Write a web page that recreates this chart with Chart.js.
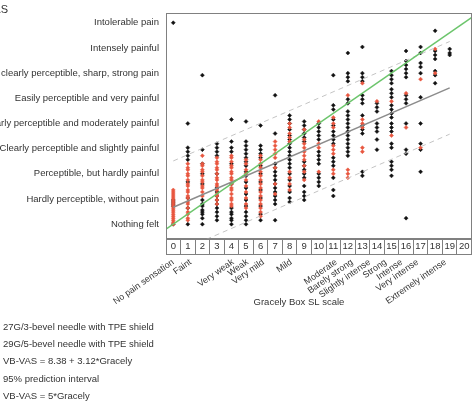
<!DOCTYPE html>
<html><head><meta charset="utf-8">
<script src="https://cdn.jsdelivr.net/npm/chart.js@4.4.1/dist/chart.umd.min.js"></script>
<style>
html,body{margin:0;padding:0;background:#fff;overflow:hidden;}
#wrap{position:relative;width:476px;height:403px;overflow:hidden;}
#c{position:absolute;left:0;top:0;}
#legend{position:absolute;left:3px;top:318px;font:9.5px 'Liberation Sans',Arial,sans-serif;color:#333;line-height:17.2px;}
.item{position:relative;white-space:nowrap;}
.sw{position:absolute;left:-26px;top:8px;width:18px;height:0;}
</style></head>
<body><div id="wrap"><canvas id="c" width="476" height="403"></canvas><div id="legend"></div></div>
<script>
// Category / tick labels
const boxNumbers = [0,1,2,3,4,5,6,7,8,9,10,11,12,13,14,15,16,17,18,19,20];
const descPos = [0,1.2,4.1,5.1,6.2,8.1,11.2,12.3,13.5,14.6,15.7,16.8,18.7];
const descNames = ['No pain sensation','Faint','Very weak','Weak','Very mild','Mild','Moderate','Barely strong','Slightly intense','Strong','Intense','Very intense','Extremely intense'];
const yLevels = [0,12.5,25,37.5,50,62.5,75,87.5,100];
const yNames = ['Nothing felt','Hardly perceptible, without pain','Perceptible, but hardly painful','Clearly perceptible and slightly painful','Clearly perceptible and moderately painful','Easily perceptible and very painful','Very clearly perceptible, sharp, strong pain','Intensely painful','Intolerable pain'];

// VB-VAS values per Gracely box (index = box number)
const needle27 = [
 [100,12,11,10,9,0],
 [50,38,36,34,32,21,13,8,0],
 [74,37,30,25,20,12,10,9,7,6,5,3,0],
 [40,38,36,34,25,18,16,14,12,10,8,6,4,2],
 [52,41,38,36,30,20,8,6,5,3,2,0],
 [51,41,39,37,35,33,31,29,26,24,21,18,15,12,9,6,4,2,0],
 [49,39,37,35,33,29,25,21,17,13,9,5,2],
 [64,45,30,28,26,24,22,20,18,16,14,12,10,2],
 [54,52,50,47,44,42,40,38,36,34,32,30,28,25,22,19,16,13,11],
 [51,49,47,45,43,41,31,29,27,25,23,19,16,14,12],
 [50,48,46,44,42,36,34,32,30,25,23,21,19],
 [74,59,57,52,49,46,44,42,40,33,31,29,23,17,14],
 [85,75,73,71,62,60,56,54,52,50,48,46,44,42,40,38,36,34],
 [88,75,73,71,64,62,60,54,49,47,45,26,24],
 [60,58,56,50,48,46,42,37],
 [76,74,72,70,67,65,63,59,57,55,53,50,48,46,40,38,31,29,27,24],
 [86,81,79,77,75,73,64,62,60,50,37,35,3],
 [88,85,80,78,75,63,50,40,37,26],
 [96,86,84,82,76,74,70],
 [87,85,84]
];
const needle29 = [
 [0,1,2,3,4,5,6,7,8,9,10,11,12,13,14,15,16,17],
 [30,28,27,25,24,22,20,19,17,16,14,13,11,10,8,6,5,3,2],
 [34,30,29,27,26,24,22,21,19,18,16,14],
 [33,31,30,28,27,25,23,22,20,19,17,15,14,12,10],
 [34,33,31,29,28,26,25,23,22,20,18,17,15,13,12,10,9],
 [32,30,27,25,22,19,16,13,10,8],
 [34,32,30,28,26,24,22,20,18,16,14,12,10,8,6,4],
 [41,39,37,35,33,28,20,15],
 [50,48,45,43,41,26,23,20,17],
 [47,42,40,38,36,34,32,29,26,22],
 [51,40,38,26],
 [53,50,48,39,37,35,27,25],
 [64,27,25,23],
 [70,52,50,48,38,36],
 [61],
 [61,44],
 [65,48],
 [72,38],
 [87,75],
 []
];
// Line end points
const regLine = [[0,8.4],[19,67.7]];
const piUpper = [[0,31.4],[19,90.7]];
const piLower = [[0,-14.6],[19,44.7]];
const equalLine = [[-0.5,-2.5],[20.5,102.5]];

const toPts = cols => cols.flatMap((col, x) => col.map(v => ({x: x, y: v})));
const toXY = arr => arr.map(p => ({x: p[0], y: p[1]}));

const FONT = "'Liberation Sans', Arial, Helvetica, sans-serif";
Chart.defaults.font.family = FONT;
Chart.defaults.color = '#333';

const framePlugin = {
  id: 'frame',
  afterDraw(chart) {
    const {ctx, chartArea: a} = chart;
    ctx.save();
    ctx.strokeStyle = '#808080';
    ctx.lineWidth = 1;
    ctx.strokeRect(Math.round(a.left) + 0.5, Math.round(a.top) + 0.5, Math.round(a.right - a.left) - 1, Math.round(a.bottom - a.top));
    ctx.fillStyle = '#333';
    ctx.font = '11px ' + FONT;
    ctx.textAlign = 'right';
    ctx.textBaseline = 'middle';
    ctx.fillText('VB-VAS', 8, 10);
    ctx.restore();
  }
};

const chart = new Chart(document.getElementById('c'), {
  type: 'scatter',
  data: {
    datasets: [
      {label: '27G/3-bevel needle with TPE shield', data: toPts(needle27), backgroundColor: '#111', borderColor: '#111', pointStyle: 'rectRot', pointRadius: 2, borderWidth: 0.5, order: 3},
      {label: '29G/5-bevel needle with TPE shield', data: toPts(needle29), backgroundColor: '#e8563f', borderColor: '#e8563f', pointStyle: 'rectRot', pointRadius: 2, borderWidth: 0.5, order: 2},
      {label: 'VB-VAS = 8.38 + 3.12*Gracely', data: toXY(regLine), showLine: true, borderColor: '#8c8c8c', borderWidth: 1.5, pointRadius: 0, order: 1},
      {label: '95% prediction interval', data: toXY(piUpper).concat([{x: 19, y: null}], toXY(piLower)), showLine: true, spanGaps: false, borderColor: '#c4c4c4', borderWidth: 1, borderDash: [5,4], pointRadius: 0, order: 1},
      {label: 'VB-VAS = 5*Gracely', data: toXY(equalLine), showLine: true, borderColor: '#6cc56c', borderWidth: 1.5, pointRadius: 0, order: 0}
    ]
  },
  options: {
    responsive: false,
    animation: false,
    events: [],
    layout: {padding: {top: 8, right: 3.5, bottom: 95, left: 0}},
    plugins: {legend: {display: false}, tooltip: {enabled: false}},
    scales: {
      y: {
        type: 'linear', min: -7, max: 105, bounds: 'data',
        afterBuildTicks: s => { s.ticks = yLevels.map(v => ({value: v})); },
        afterFit: s => { s.width = 166; },
        ticks: {callback: (v, i) => yNames[i], padding: 7, font: {size: 9.5}, color: '#333', autoSkip: false},
        grid: {display: false, drawTicks: false},
        border: {display: false}
      },
      x: {
        type: 'linear', position: 'bottom', min: -0.5, max: 20.5, bounds: 'data',
        afterBuildTicks: s => { s.ticks = boxNumbers.map(v => ({value: v})); },
        afterFit: s => { s.height = 16; },
        ticks: {callback: (v, i) => String(boxNumbers[i]), padding: -14, font: {size: 9.5}, color: '#333', autoSkip: false, maxRotation: 0, minRotation: 0},
        grid: {offset: true, drawOnChartArea: false, drawTicks: true, tickLength: 16, color: '#808080', lineWidth: 1},
        border: {display: true, color: '#808080'}
      },
      x2: {
        type: 'linear', position: 'bottom', min: -0.5, max: 20.5, bounds: 'data',
        afterBuildTicks: s => { s.ticks = descPos.map(v => ({value: v})); },
        afterFit: s => { s.height = 53.7; },
        ticks: {callback: (v, i) => descNames[i], padding: 2.5, font: {size: 9}, color: '#333', autoSkip: false, maxRotation: 35, minRotation: 35},
        grid: {display: false, drawTicks: false},
        border: {display: true, color: '#808080'},
        title: {display: true, text: 'Gracely Box SL scale' + '\u00A0'.repeat(15), font: {size: 9.5}, color: '#333', padding: {top: 0, bottom: 0}}
      }
    }
  },
  plugins: [framePlugin]
});

// Legend (markers fall outside the cropped frame, as in the source figure)
const leg = document.getElementById('legend');
chart.data.datasets.forEach(ds => {
  const d = document.createElement('div');
  d.className = 'item';
  const sw = document.createElement('span');
  sw.className = 'sw';
  sw.style.borderTop = '2px solid ' + ds.borderColor;
  d.appendChild(sw);
  d.appendChild(document.createTextNode(ds.label));
  leg.appendChild(d);
});
</script>
</body></html>
